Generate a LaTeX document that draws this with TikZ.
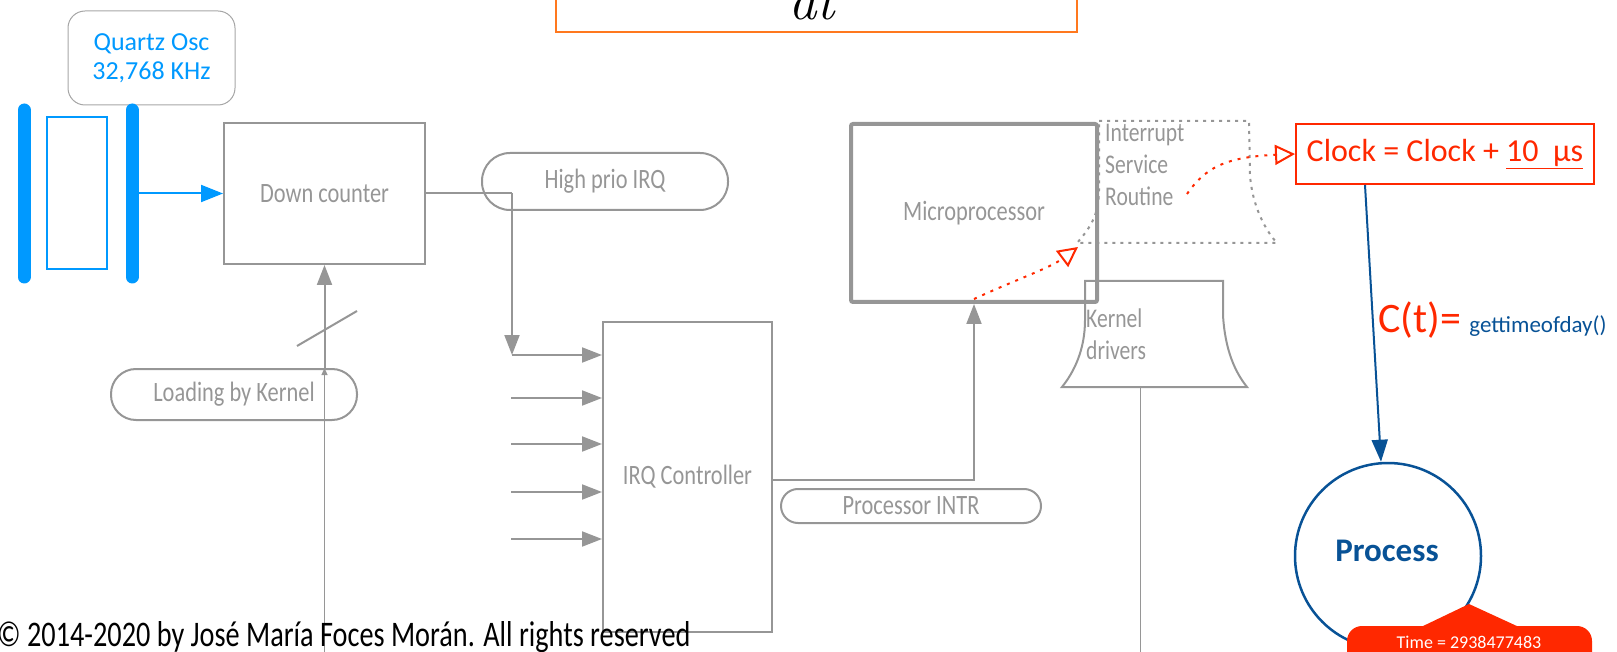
\documentclass[tikz,border=0pt]{standalone}
\usepackage{fontspec}
\setmainfont{Carlito}
\newfontfamily\cond[FakeStretch=0.8]{Carlito}
\newfontfamily\condc[FakeStretch=0.785]{Carlito}
\newfontfamily\lmr{Latin Modern Roman}
\usepackage{graphicx}
\usetikzlibrary{arrows.meta,calc}
\definecolor{gr}{RGB}{150,150,150}
\definecolor{qblue}{RGB}{0,153,255}
\definecolor{dblue}{RGB}{8,82,150}
\definecolor{ored}{RGB}{255,40,0}
\definecolor{orng}{RGB}{255,120,30}
\newcommand\fsz[2]{\fontsize{#1}{#2}\selectfont}
\tikzset{
  gbox/.style={draw=gr, line width=2pt, inner sep=0pt, text=gr, font=\cond\fsz{28}{32}},
  pill/.style={gbox},
  garrow/.style={draw=gr, line width=2pt, -{Triangle[length=20pt,width=15pt]}},
  reddot/.style={draw=ored, line width=2pt, dash pattern=on 3pt off 6pt, -{Triangle[open,length=20pt,width=20pt]}},
}
\begin{document}
\begin{tikzpicture}[x=1pt,y=-1pt]
\useasboundingbox (0,0) rectangle (1617,652);
\clip (0,0) rectangle (1617,652);

% top orange box
\draw[orng, line width=2pt] (556,-80) rectangle (1077,32);
\node[font=\lmr\itshape\fsz{56}{60}, anchor=base, inner sep=0] (dt) at (812,20) {dt};

% quartz oscillator
\node[draw=gr!85, line width=1pt, rounded corners=17pt, minimum width=167pt, minimum height=94pt, align=center, text=qblue, font=\fsz{26}{29}] (quartz) at (151.5,58) {Quartz Osc\\32,768 KHz};
\draw[qblue, line width=13pt, line cap=round] (24,110) -- (24,277);
\draw[qblue, line width=13pt, line cap=round] (132,110) -- (132,277);
\draw[qblue, line width=2pt] (47,117) rectangle (107,269);
\coordinate (oscout) at (138,193.5);

% down counter
\node[gbox, minimum width=201pt, minimum height=141pt] (dc) at (324.5,193.5) {Down counter};
\draw[qblue, line width=2pt, -{Triangle[length=22pt,width=17pt]}] (oscout) -- (dc.west);

% loading by kernel
\node[pill, minimum width=246pt, minimum height=51pt, rounded corners=25pt] (load) at (234,394.5) {Loading by Kernel};
\coordinate (ldtop) at (load.north -| dc.south);
\coordinate (ldbot) at (dc.south |- 0,652);
\draw[gr, line width=1pt, -{Triangle[length=7pt,width=6pt]}] (ldbot) -- (ldtop);
\draw[garrow] (ldtop) -- (dc.south);
\draw[gr, line width=2pt] (297,346) -- (357,311);

% high prio IRQ
\node[pill, minimum width=246pt, minimum height=57pt, rounded corners=28pt] (hp) at (605,181.5) {High prio IRQ};

% IRQ controller
\node[gbox, minimum width=169pt, minimum height=310pt] (irq) at (687.5,477) {IRQ Controller};
\coordinate (j1) at (512,193.5);
\coordinate (j2) at (512,355);
\draw[gr, line width=2pt] (dc.east) -- (j1);
\draw[garrow] (j1) -- (j2);
\draw[garrow] (j2) -- (j2 -| irq.west);
\foreach \y [count=\i] in {398,444,492,539} {
  \coordinate (in\i) at (511,\y);
  \draw[garrow] (in\i) -- (in\i -| irq.west);
}

% microprocessor
\node[gbox, line width=4pt, rounded corners=2pt, minimum width=246pt, minimum height=178pt] (mp) at (974,213) {Microprocessor};
\draw[garrow] ([yshift=-3pt]irq.east) -| (mp.south);
\node[pill, minimum width=260pt, minimum height=34pt, rounded corners=17pt] (pintr) at (911,506) {Processor INTR};

% ISR
\draw[gr, line width=2pt, dash pattern=on 3pt off 5pt] (1099,121) -- (1249,121) -- (1250,175) .. controls (1252,205) and (1265,230) .. (1277,243) -- (1077,243) .. controls (1090,228) and (1099,215) .. (1099,190) -- cycle;
\node[font=\cond\fsz{27}{32}, text=gr, align=left, anchor=west, inner sep=0] (isr) at (1105,165) {Interrupt\\Service\\Routine};

% kernel drivers
\draw[gr, line width=2pt] (1085,281) -- (1223,281) -- (1223,315) .. controls (1225,350) and (1235,372) .. (1247,387) -- (1062,387) .. controls (1074,372) and (1085,350) .. (1085,320) -- cycle;
\node[font=\cond\fsz{27}{32}, text=gr, align=left, anchor=west, inner sep=0] (kd) at (1086,334) {Kernel\\drivers};
\coordinate (kdb) at (1140,387);
\coordinate (kdend) at (1140,652);
\draw[gr, line width=1pt] (kdb) -- (kdend);

% clock
\node[draw=ored, line width=2pt, minimum width=298pt, minimum height=60pt, text=ored, font=\fsz{32}{36}, inner sep=0] (clock) at (1445,154) {Clock = Clock + \underline{10\ \ µs}};

% red dotted arrows
\coordinate (isrbl) at (1078,247);
\draw[reddot] ([yshift=5pt]mp.south) .. controls (1015,280) and (1050,268) .. (isrbl);
\coordinate (rstart) at (1187,194);
\draw[reddot] (rstart) .. controls (1205,168) and (1225,157) .. (clock.west);

% process
\node[circle, draw=dblue, line width=2.5pt, minimum size=186pt, inner sep=0] (proc) at (1388,556) {};
\node[text=dblue, font=\bfseries\fsz{33}{36}, inner sep=0] (proctext) at (1387,551) {Process};
\draw[dblue, line width=2pt, -{Triangle[length=22pt,width=16pt]}] ([xshift=-80pt]clock.south) -- ([xshift=-7pt]proc.north);

\node[anchor=base west, inner sep=0, text=ored, font=\fsz{42}{46}] (ct) at (1378,333) {C(t)=};
\node[anchor=base west, inner sep=0, text=dblue, font=\fsz{23}{26}] (gtod) at ([xshift=8pt]ct.base east) {gettimeofday()};

% time callout
\fill[ored, rounded corners=15pt] (1347,626) rectangle (1592,690);
\fill[ored] (1421,627) -- (1469,604) -- (1519,627) -- cycle;
\node[text=white, font=\fsz{18}{20}, inner sep=0] (time) at (1469,642) {Time = 2938477483};

% copyright
\node[anchor=base west, inner sep=0, font=\condc\fsz{36}{40}] (copy) at (-3,646) {© 2014-2020 by José María Foces Morán. All rights reserved};
\end{tikzpicture}
\end{document}
